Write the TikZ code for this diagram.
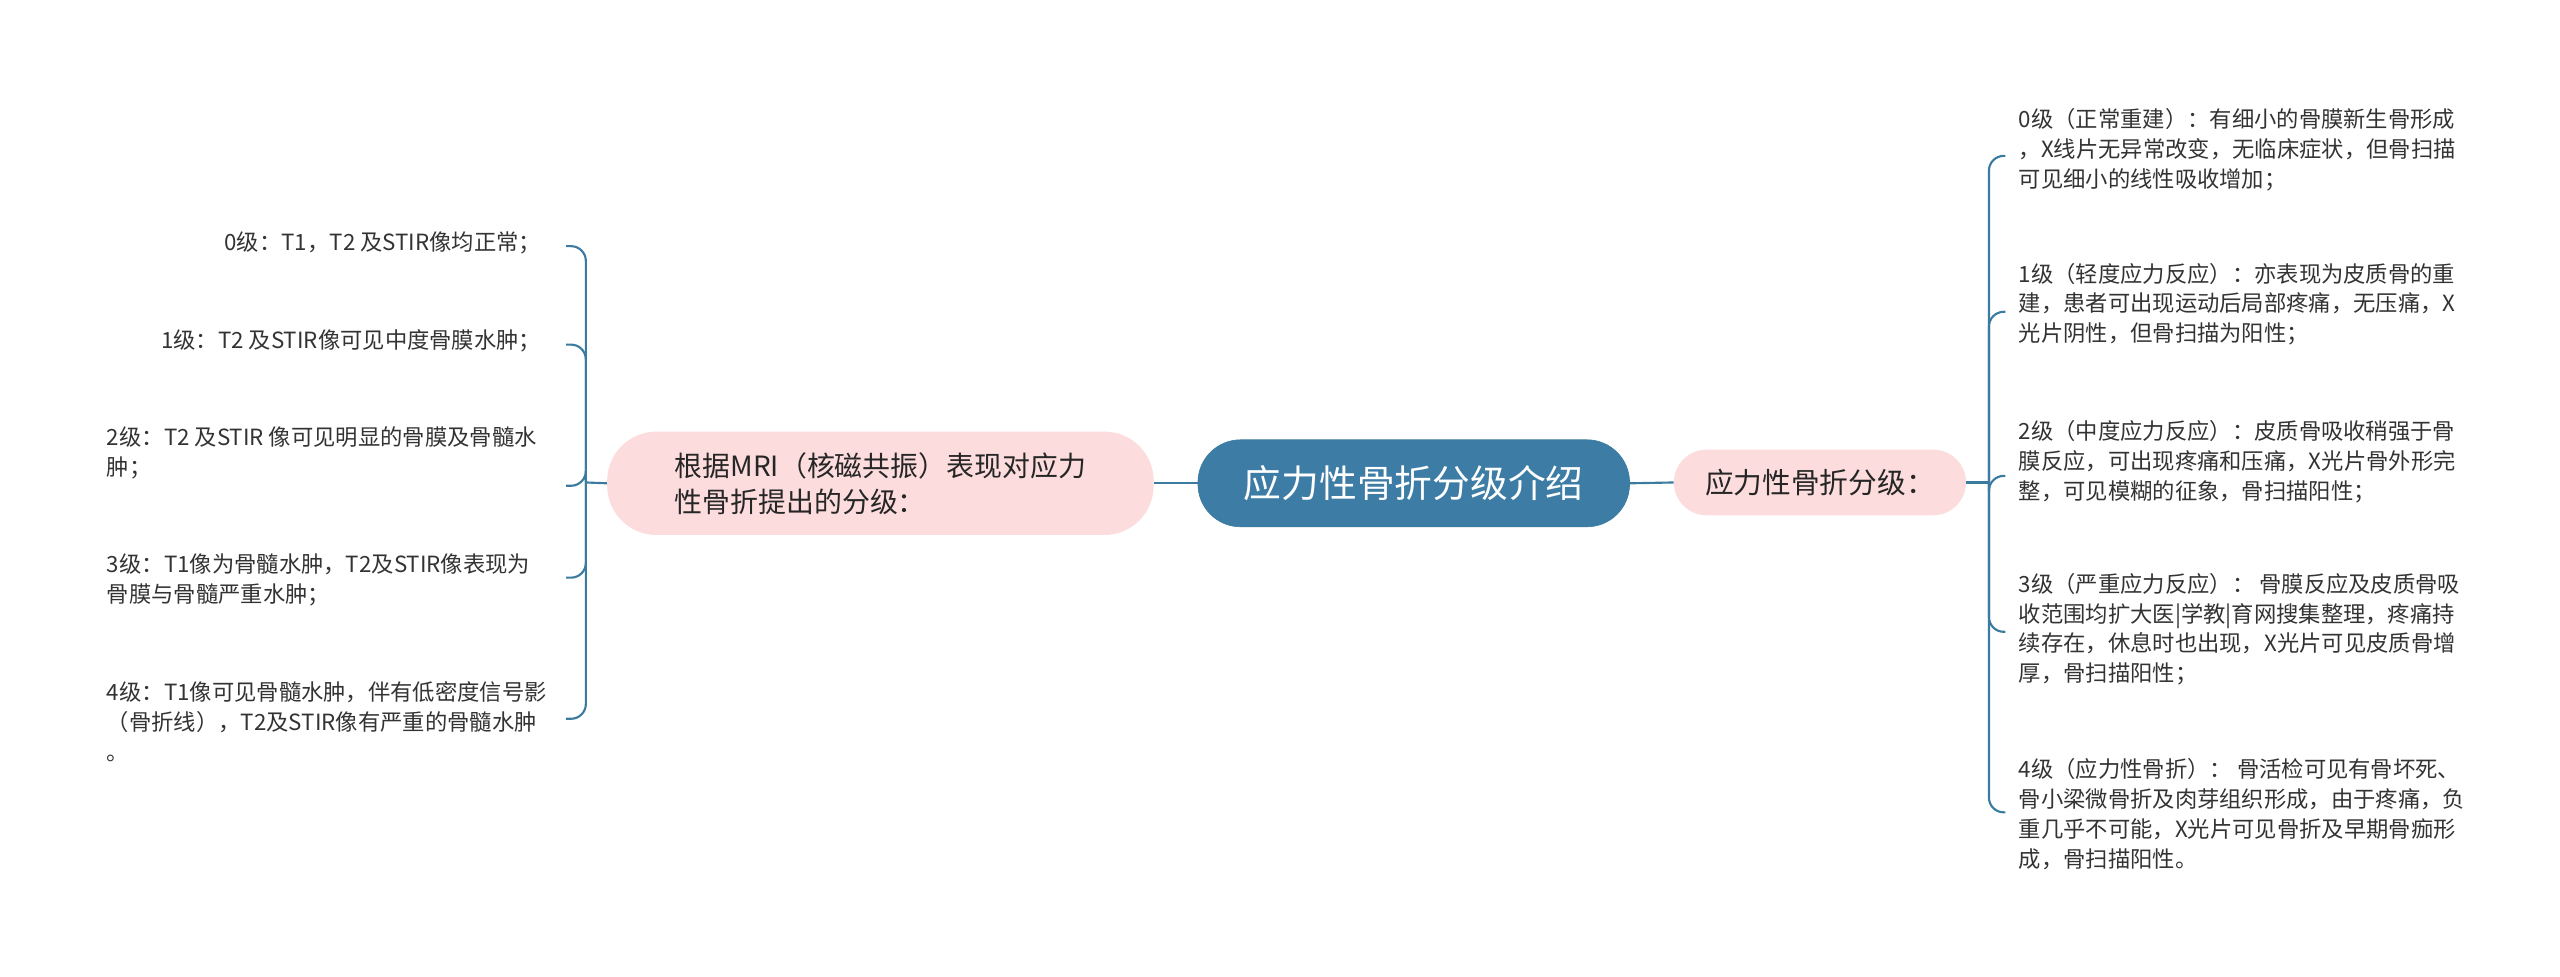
\documentclass[tikz,border=0pt]{standalone}
\usepackage{fontspec}
\setmainfont{Noto Sans CJK SC}
\begin{document}
\begin{tikzpicture}[x=1pt,y=-1pt,
  line/.style={draw=lnc,line width=1.3pt},
  leaf/.style={font=\fontsize{13.6}{18.2}\selectfont,text=black!80,align=left,inner sep=0pt},
  br/.style={line,rounded corners=9pt}]
\definecolor{lnc}{HTML}{3B7BA0}
\definecolor{cen}{HTML}{3D7CA5}
\definecolor{pk}{HTML}{FCDCDC}
\useasboundingbox (0,0) rectangle (1560,595);
\node[fill=cen,draw=lnc,rounded corners=26pt,minimum width=263pt,minimum height=53pt,text=white,font=\fontsize{23}{26}\selectfont] (c) at (861.5,294.5) {应力性骨折分级介绍};
\node[fill=pk,rounded corners=30pt,minimum width=333pt,minimum height=63pt,font=\fontsize{17}{22}\selectfont,align=left,text=black!85] (l) at (536.5,294.5) {根据MRI（核磁共振）表现对应力\\性骨折提出的分级：};
\node[fill=pk,rounded corners=20pt,minimum width=178pt,minimum height=40pt,font=\fontsize{17.5}{21}\selectfont,text=black!85] (r) at (1109,294) {应力性骨折分级：};
\draw[line] (c.west) -- (l.east);
\draw[line] (c.east) -- (r.west);
\coordinate (lh) at (357,294);
\coordinate (rh) at (1212,294);
\draw[line] (l.west) -- (lh);
\draw[line] (r.east) -- (rh);
% left leaves
\node[leaf,anchor=east] (a0) at (330,148) {0级：T1，T2 及STIR像均正常；};
\node[leaf,anchor=east] (a1) at (330,208) {1级：T2 及STIR像可见中度骨膜水肿；};
\node[leaf,anchor=north west] (a2) at (65,260) {2级：T2 及STIR 像可见明显的骨膜及骨髓水\\肿；};
\node[leaf,anchor=north west] (a3) at (65,337) {3级：T1像为骨髓水肿，T2及STIR像表现为\\骨膜与骨髓严重水肿；};
\node[leaf,anchor=north west] (a4) at (65,415) {4级：T1像可见骨髓水肿，伴有低密度信号影\\（骨折线），T2及STIR像有严重的骨髓水肿\\。};
\foreach \y/\n in {150/a0,210/a1,296/a2,352/a3,438/a4}{
  \coordinate (e\n) at (345,\y);
  \draw[br] (lh) -- (357,\y) -- (e\n);}
% right leaves
\node[leaf,anchor=north west] (b0) at (1230,66) {0级（正常重建）：有细小的骨膜新生骨形成\\，X线片无异常改变，无临床症状，但骨扫描\\可见细小的线性吸收增加；};
\node[leaf,anchor=north west] (b1) at (1230,160) {1级（轻度应力反应）：亦表现为皮质骨的重\\建，患者可出现运动后局部疼痛，无压痛，X\\光片阴性，但骨扫描为阳性；};
\node[leaf,anchor=north west] (b2) at (1230,256) {2级（中度应力反应）：皮质骨吸收稍强于骨\\膜反应，可出现疼痛和压痛，X光片骨外形完\\整，可见模糊的征象，骨扫描阳性；};
\node[leaf,anchor=north west] (b3) at (1230,349) {3级（严重应力反应）： 骨膜反应及皮质骨吸\\收范围均扩大医|学教|育网搜集整理，疼痛持\\续存在，休息时也出现，X光片可见皮质骨增\\厚，骨扫描阳性；};
\node[leaf,anchor=north west] (b4) at (1230,462) {4级（应力性骨折）： 骨活检可见有骨坏死、\\骨小梁微骨折及肉芽组织形成，由于疼痛，负\\重几乎不可能，X光片可见骨折及早期骨痂形\\成，骨扫描阳性。};
\foreach \y/\n in {95/b0,190/b1,290/b2,385/b3,495/b4}{
  \coordinate (e\n) at (1222,\y);
  \draw[br] (rh) -- (1212,\y) -- (e\n);}
\end{tikzpicture}
\end{document}
